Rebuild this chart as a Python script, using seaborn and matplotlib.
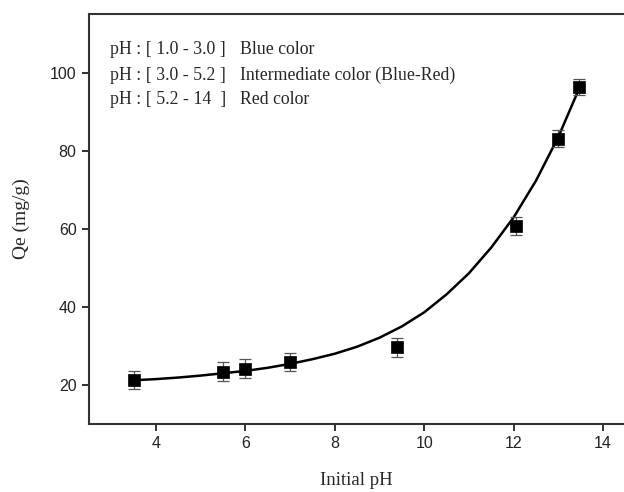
import matplotlib
matplotlib.use("Agg")
import matplotlib.pyplot as plt
import seaborn as sns
import pandas as pd

# measured points
ph = [3.5, 5.5, 6.0, 7.0, 9.4, 12.06, 13.0, 13.47]
qe = [21.3, 23.4, 24.2, 25.9, 29.6, 60.6, 83.1, 96.3]
qe_err = [2.4, 2.4, 2.4, 2.3, 2.4, 2.3, 2.2, 2.0]

# fitted curve
curve_ph = [3.5, 4.0, 4.5, 5.0, 5.5, 6.0, 6.5, 7.0, 7.5, 8.0, 8.5, 9.0, 9.5,
            10.0, 10.5, 11.0, 11.5, 12.0, 12.5, 13.0, 13.5]
curve_qe = [21.2, 21.5, 21.9, 22.4, 23.0, 23.6, 24.4, 25.4, 26.6, 28.0, 29.8,
            32.1, 35.0, 38.6, 43.2, 48.6, 55.2, 62.9, 72.3, 83.5, 96.8]

x_ticks = [4, 6, 8, 10, 12, 14]
y_ticks = [20, 40, 60, 80, 100]

notes_left = ["pH : [ 1.0 - 3.0 ]", "pH : [ 3.0 - 5.2 ]", "pH : [ 5.2 - 14  ]"]
notes_right = ["Blue color", "Intermediate color (Blue-Red)", "Red color"]

sns.set_style("ticks")
plt.rcParams["font.family"] = ["Liberation Sans", "DejaVu Sans"]

fig = plt.figure(figsize=(6.24, 4.92), dpi=100)
ax = fig.add_axes([89 / 624, 1 - 424 / 492, (624 - 89) / 624, 410 / 492])

df_curve = pd.DataFrame({"x": curve_ph, "y": curve_qe})
sns.lineplot(data=df_curve, x="x", y="y", ax=ax, color="black", linewidth=1.8,
             estimator=None, sort=True, zorder=2)

ax.errorbar(ph, qe, yerr=qe_err, fmt="none", ecolor="#555555", elinewidth=0.9,
            capsize=4, capthick=0.9, zorder=3)

df_pts = pd.DataFrame({"x": ph, "y": qe})
sns.scatterplot(data=df_pts, x="x", y="y", ax=ax, marker="s", s=70,
                color="black", edgecolor="black", linewidth=0.5, zorder=4)

ax.set_xlim(2.5, 14.47)
ax.set_ylim(10, 115)
ax.set_xticks(x_ticks)
ax.set_yticks(y_ticks)
ax.tick_params(axis="both", direction="out", length=5, width=1.3,
               labelsize=11.5, colors="#222222", pad=4)
for s in ["left", "bottom", "top"]:
    ax.spines[s].set_visible(True)
    ax.spines[s].set_linewidth(1.5)
    ax.spines[s].set_color("#333333")
ax.spines["right"].set_visible(False)

ax.set_xlabel("Initial pH", family=["Liberation Serif"], fontsize=13.5,
              labelpad=15)
ax.set_ylabel("Qe (mg/g)", family=["Liberation Serif"], fontsize=14,
              labelpad=14)

ys = [1 - 50 / 492, 1 - 75 / 492, 1 - 99 / 492]
for yv, a, b in zip(ys, notes_left, notes_right):
    fig.text(110 / 624, yv, a, family=["Liberation Serif"], fontsize=12.8,
             va="center", ha="left")
    fig.text(240 / 624, yv, b, family=["Liberation Serif"], fontsize=12.8,
             va="center", ha="left")

fig.savefig("out.png", dpi=100)
